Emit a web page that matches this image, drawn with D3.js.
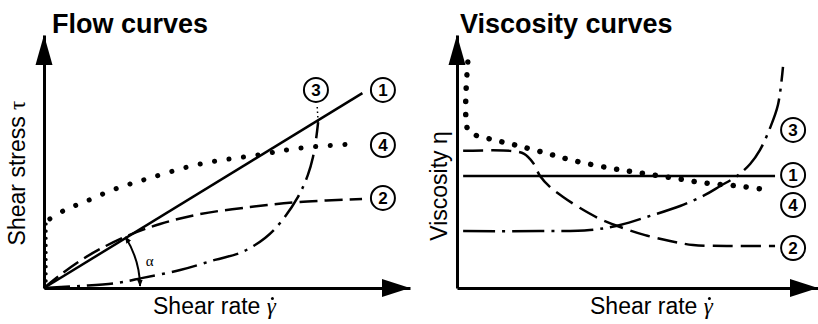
<!DOCTYPE html>
<html>
<head>
<meta charset="utf-8">
<script src="https://cdn.jsdelivr.net/npm/d3@7"></script>
<style>
  html, body { margin: 0; padding: 0; background: #fff; }
  svg { display: block; }
</style>
</head>
<body>
<svg id="chart" width="818" height="324"></svg>
<script>
// ---- Flow curves: shear rate (x) vs shear stress (y) ----
const flowNewtonian   = [[0, 0], [87, 77]];
const flowPseudo      = [[0,0],[4.4,5.1],[9.8,10.7],[15.3,15.4],[22.7,20.6],[31.7,25.3],[42.6,29.2],[56.3,32.0],[69.9,34.0],[86.9,35.2]];
const flowDilatant    = [[0,0],[9.8,0.8],[19.9,2.0],[27,4.0],[37.2,7.1],[46.7,11.1],[54.1,14.2],[60.4,19.8],[64.5,25.7],[69.4,36.0],[72.1,44.7],[73.5,51.8],[74.3,58.5],[74.9,65.6]];
const flowDilatantEnd = [[74.9,65.6],[74.6,72.7]];
const flowYieldAxis   = [[0.6,0],[0.6,27]];
const flowYield       = [[1.6,27.3],[5.7,30.8],[11.7,34.4],[19.4,39.1],[29,43.5],[42.6,49],[58.5,52.6],[69.9,55.3],[84.2,56.9]];
const flowLabels      = [{id:"1", x:92.6, y:78.3}, {id:"3", x:74.3, y:78.3}, {id:"4", x:92.6, y:56.5}, {id:"2", x:92.6, y:35.6}];

// ---- Viscosity curves: shear rate (x) vs viscosity (y) ----
const viscNewtonian = [[1.7,44.3],[88.1,44.3]];
const viscPseudo    = [[1.7,54.2],[14.7,54.2],[18.6,53.0],[21.1,49.4],[23,44.3],[25.8,39.9],[29.4,36.0],[34.1,31.6],[39.6,27.3],[45.2,24.1],[52.1,20.9],[59,18.6],[65.4,17.0],[75.6,16.6],[88.1,16.6]];
const viscDilatant  = [[1.7,22.5],[23,22.5],[36.8,22.9],[45.2,24.9],[53.5,28.5],[61.8,32.4],[68.7,36.8],[72.9,40.3],[77.6,44.3],[81.2,49.0],[83.9,54.5],[86.7,63.2],[88.9,72.3],[90.3,87.4]];
const viscYield     = [[3.0,89.3],[3.0,62.5],[5.0,60.5],[9.1,58.9],[16.1,56.5],[24.4,53.4],[32.7,50.2],[42.4,47.4],[50.7,45.5],[59.8,43.5],[68.7,41.5],[77.8,40.3],[86.7,38.7]];
const viscLabels    = [{id:"3", x:93.1, y:62.5}, {id:"1", x:93.1, y:44.7}, {id:"4", x:93.1, y:32.8}, {id:"2", x:93.1, y:15.8}];

const FONT = "'Liberation Sans', Arial, Helvetica, sans-serif";
const SERIF = "'Liberation Serif', 'Times New Roman', serif";
const svg = d3.select("#chart");

// arrowhead for the angle marker
svg.append("defs").append("marker")
  .attr("id", "tip").attr("viewBox", "0 0 10 10")
  .attr("refX", 9).attr("refY", 5)
  .attr("markerWidth", 7).attr("markerHeight", 7)
  .attr("markerUnits", "userSpaceOnUse")
  .attr("orient", "auto-start-reverse")
  .append("path").attr("d", "M0,1 L10,5 L0,9 Z").attr("fill", "#000");

function panel(cfg) {
  const x = d3.scaleLinear().domain([0, 100]).range(cfg.xr);
  const y = d3.scaleLinear().domain([0, 100]).range(cfg.yr);
  const g = svg.append("g");

  // axes drawn as bare lines (no ticks), with arrowheads
  const ax = g.append("g").attr("transform", `translate(0,${y(0)})`)
    .call(d3.axisBottom(x).tickValues([]).tickSizeOuter(0));
  const ay = g.append("g").attr("transform", `translate(${x(0)},0)`)
    .call(d3.axisLeft(y).tickValues([]).tickSizeOuter(0));
  [ax, ay].forEach(a => a.select(".domain").attr("stroke", "#000").attr("stroke-width", 3));
  const x1 = x(100), y0 = y(0), x0 = x(0), y1 = y(100);
  g.append("path").attr("d", `M${x1},${y0} L${x1 - 28},${y0 - 9} L${x1 - 28},${y0 + 9} Z`).attr("fill", "#000");
  g.append("path").attr("d", `M${x0},${y1} L${x0 - 8.5},${y1 + 30} L${x0 + 8.5},${y1 + 30} Z`).attr("fill", "#000");

  const line = d3.line().x(d => x(d[0])).y(d => y(d[1])).curve(d3.curveCatmullRom.alpha(0.5));
  cfg.series.forEach(s => {
    g.append("path").datum(s.data).attr("d", line)
      .attr("fill", "none").attr("stroke", "#000")
      .attr("stroke-width", s.w).attr("stroke-dasharray", s.dash || null)
      .attr("stroke-linecap", s.cap || "butt");
  });

  // circled curve numbers
  const lab = g.selectAll("g.lab").data(cfg.labels).join("g")
    .attr("transform", d => `translate(${x(d.x)},${y(d.y)})`);
  lab.append("circle").attr("r", 12).attr("fill", "#fff").attr("stroke", "#000").attr("stroke-width", 2);
  lab.append("text").text(d => d.id).attr("text-anchor", "middle").attr("dy", "0.36em")
    .attr("font-family", FONT).attr("font-weight", "bold").attr("font-size", 17);

  // title
  g.append("text").text(cfg.title).attr("x", cfg.titleX).attr("y", 33)
    .attr("font-family", FONT).attr("font-weight", "bold").attr("font-size", 27);

  // x-axis title: "Shear rate" followed by gamma, with the time-derivative dot above it
  const xt = g.append("text").attr("x", cfg.xLabelX).attr("y", 314)
    .attr("font-family", FONT).attr("font-size", 23);
  xt.append("tspan").text("Shear rate ");
  xt.append("tspan").text("γ").attr("font-family", SERIF).attr("font-style", "italic");
  const box = xt.node().getExtentOfChar(11);
  g.append("circle").attr("cx", box.x + box.width * 0.62).attr("cy", box.y + 4.5)
    .attr("r", 1.5).attr("fill", "#000");

  // y-axis title
  const yt = g.append("text")
    .attr("transform", `translate(${cfg.yLabelX},${cfg.yLabelY}) rotate(-90)`)
    .attr("text-anchor", "middle").attr("font-family", FONT).attr("font-size", 23);
  yt.append("tspan").text(cfg.yLabel);
  yt.append("tspan").text(cfg.ySym).attr("font-family", cfg.symFont);

  return { g, x, y };
}

const left = panel({
  xr: [44, 410], yr: [288, 35], title: "Flow curves", titleX: 52,
  xLabelX: 153, yLabelX: 25, yLabelY: 173, yLabel: "Shear stress ", ySym: "τ",
  symFont: SERIF,
  labels: flowLabels,
  series: [
    { data: flowNewtonian, w: 2.5 },
    { data: flowPseudo, w: 2.5, dash: "18 7" },
    { data: flowDilatant, w: 2.5, dash: "26 7 3 7" },
    { data: flowDilatantEnd, w: 1.5, dash: "1.5 3" },
    { data: flowYieldAxis, w: 3, dash: "0.1 7", cap: "round" },
    { data: flowYield, w: 5, dash: "0.1 14.5", cap: "round" }
  ]
});

// angle α between the Newtonian line and the shear-rate axis
{
  const { g, x, y } = left;
  const ox = x(0), oy = y(0);
  const px = x(flowPseudo[4][0]), py = y(flowPseudo[4][1]);
  const r = Math.hypot(px - ox, py - oy) - 2;
  const a1 = Math.atan2(oy - py, px - ox);
  const p = d3.path();
  p.moveTo(ox + r * Math.cos(a1), oy - r * Math.sin(a1));
  p.arc(ox, oy, r, -a1, -0.02, false);
  g.append("path").attr("d", p.toString()).attr("fill", "none").attr("stroke", "#000")
    .attr("stroke-width", 2).attr("marker-start", "url(#tip)").attr("marker-end", "url(#tip)");
  g.append("text").text("α").attr("x", ox + r * 1.06).attr("y", oy - 22)
    .attr("font-family", SERIF).attr("font-size", 15);
}

panel({
  xr: [457, 818], yr: [288, 35], title: "Viscosity curves", titleX: 460,
  xLabelX: 590, yLabelX: 447, yLabelY: 186, yLabel: "Viscosity ", ySym: "η",
  symFont: FONT,
  labels: viscLabels,
  series: [
    { data: viscNewtonian, w: 2.5 },
    { data: viscPseudo, w: 2.5, dash: "20 8" },
    { data: viscDilatant, w: 2.5, dash: "32 7 3 7" },
    { data: viscYield, w: 5.5, dash: "0.1 13", cap: "round" }
  ]
});
</script>
</body>
</html>
